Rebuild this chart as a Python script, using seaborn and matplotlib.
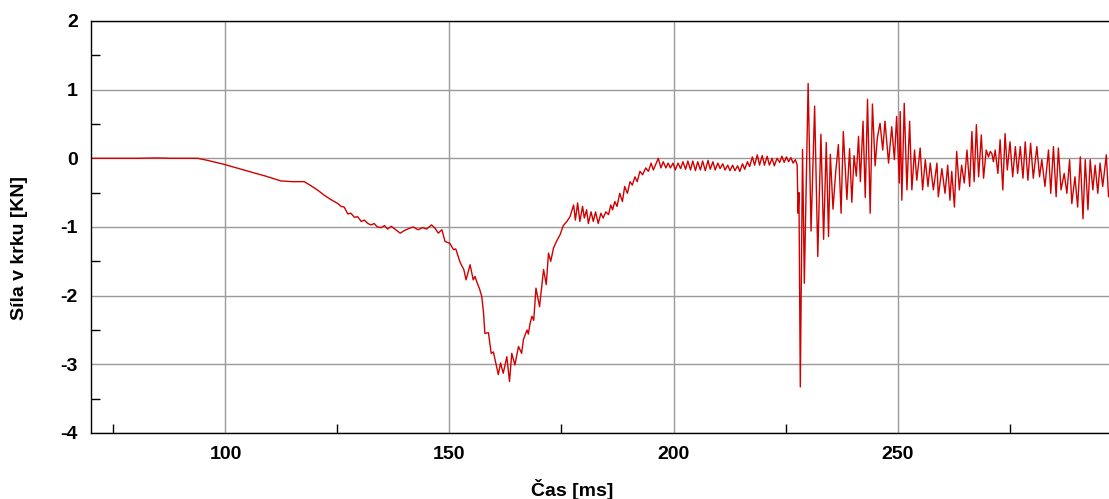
import matplotlib
matplotlib.use("Agg")
import matplotlib.pyplot as plt
import pandas as pd
import seaborn as sns
from matplotlib.ticker import MultipleLocator

# --- measured neck force (time in ms, force in kN) ---
# quiet phase and gradual loading
t_quiet = [70, 75, 80, 85, 88, 92, 93.8, 96, 99.8, 103, 105.7, 109, 112.4, 115,
           117.6, 119.1, 120.5, 122.1, 123.5, 125.1, 125.8, 126.5, 127.3, 128,
           128.8, 129.5, 130.3, 131, 131.8, 132.5, 133.2, 133.9, 134.7, 135.5,
           136.2, 137]
f_quiet = [0, 0, 0, 0.005, 0, 0, 0, -0.03, -0.09, -0.15, -0.20, -0.26, -0.33, -0.34,
           -0.34, -0.40, -0.46, -0.54, -0.60, -0.66, -0.70, -0.71, -0.81, -0.80,
           -0.86, -0.85, -0.92, -0.90, -0.95, -0.97, -0.95, -1.00, -1.01, -0.98,
           -1.03, -0.99]

# main loading peak
t_load = [138, 139, 140, 141, 141.9, 143, 144, 144.9, 146, 146.8, 147.5, 148.3,
          149, 150.1, 150.9, 151.4, 152.4, 153.2, 153.7, 154.6, 155.3, 155.7,
          156.1, 156.7, 157.2, 157.6, 157.9, 158.7, 159.3, 159.8, 160.4, 160.9,
          161.4, 162, 162.8, 163.4, 163.9, 164.6, 165.4, 166.1, 166.5, 167.3,
          167.6, 168.0, 168.4, 168.8, 169.3, 170.1, 171, 171.6, 172.1, 172.6,
          173.2, 173.8, 174.3, 174.7]
f_load = [-1.04, -1.09, -1.05, -1.02, -1.00, -1.04, -1.01, -1.03, -0.97, -1.02,
          -1.09, -1.04, -1.21, -1.24, -1.33, -1.32, -1.52, -1.62, -1.77, -1.55,
          -1.77, -1.72, -1.80, -1.90, -2.01, -2.25, -2.55, -2.54, -2.84, -2.82,
          -3.00, -3.15, -2.98, -3.13, -2.89, -3.25, -2.84, -3.01, -2.74, -2.84,
          -2.64, -2.50, -2.56, -2.40, -2.30, -2.36, -1.89, -2.16, -1.62, -1.84,
          -1.38, -1.50, -1.31, -1.22, -1.16, -1.11]

# unloading and settling near zero
t_settle = [175.4, 176.2, 176.9, 177.7, 178.1, 178.6, 179.1, 179.7, 180.1, 180.6,
            181.0, 181.6, 182.1, 182.6, 183.2, 183.8, 184.3, 184.9, 185.5, 186.0,
            186.4, 186.9, 187.4, 188.0, 188.6, 189.1, 189.7, 190.3, 190.8, 191.4,
            191.9, 192.5, 193.1, 193.8, 194.4, 195.0, 195.5, 196.6, 197.2, 197.7,
            198.3, 198.8, 199.3, 199.9, 200.4, 201.0, 201.6, 202.1, 202.7, 203.2,
            203.8, 204.3, 204.9, 205.4, 206.0, 206.5, 207.1, 207.7, 208.2, 208.8,
            209.3, 209.9, 210.4, 211.0, 211.5, 212.1, 212.6, 213.2, 213.7, 214.3,
            214.8, 215.4, 215.9, 216.5, 217.0, 217.6, 218.1, 218.7, 219.2, 219.8,
            220.3, 220.9, 221.4, 222.0, 222.5, 223.1, 223.7, 224.2, 224.7, 225.2,
            225.7, 226.2, 226.7, 227.2, 227.6]
f_settle = [-0.98, -0.92, -0.85, -0.68, -0.90, -0.65, -0.92, -0.70, -0.87, -0.75,
            -0.95, -0.78, -0.92, -0.78, -0.95, -0.80, -0.87, -0.78, -0.82, -0.68,
            -0.75, -0.63, -0.70, -0.51, -0.63, -0.41, -0.51, -0.34, -0.39, -0.27,
            -0.34, -0.19, -0.24, -0.14, -0.19, -0.07, -0.17, 0.00, -0.14, -0.05,
            -0.14, -0.07, -0.14, -0.07, -0.17, -0.07, -0.15, -0.05, -0.16, -0.04,
            -0.17, -0.04, -0.18, -0.05, -0.17, -0.04, -0.18, -0.03, -0.16, -0.05,
            -0.17, -0.07, -0.15, -0.08, -0.17, -0.10, -0.18, -0.10, -0.18, -0.11,
            -0.19, -0.08, -0.16, -0.05, -0.12, 0.02, -0.10, 0.05, -0.10, 0.04,
            -0.10, 0.03, -0.10, 0.00, -0.11, 0.00, -0.06, 0.03, -0.06, 0.02,
            -0.05, 0.01, -0.07, -0.02, -0.10]

# second impact and ringing
t_impact = [227.8, 228.0, 228.3, 228.8, 229.2, 230.05, 230.7, 231.5, 232.2, 232.9,
            233.5, 234.1, 234.6, 235.0, 235.6, 236.2, 236.8, 237.4, 237.9, 238.7,
            239.3, 239.8, 240.3, 240.8, 241.3, 241.7, 242.3, 242.8, 243.3, 243.9,
            244.4, 245.0, 245.5, 246.1, 246.7, 247.2, 248.0, 248.7, 249.3, 249.8,
            250.4, 250.6, 250.96, 251.5, 252.1, 252.7, 253.2, 253.8, 254.3, 255.05,
            255.6, 256.2, 256.8, 257.3, 258.0, 258.8, 259.1, 259.9, 260.6, 261.2,
            261.7, 262.1, 262.7, 263.2, 263.8, 264.3, 264.9, 265.5, 266.1, 266.6,
            267.1, 267.6, 268.1, 268.7, 269.2, 269.8, 270.3, 270.7, 271.05, 271.4,
            271.8, 272.4, 272.9, 273.5, 274.0, 274.5, 275.1, 275.7, 276.3, 276.8,
            277.4, 278.0, 278.5, 279.1, 279.7, 280.3, 281.1, 281.7, 282.2, 282.9,
            283.7, 284.2, 284.8, 285.4, 285.9, 286.5, 287.2, 287.8, 288.4, 288.9,
            289.6, 290.2, 290.8, 291.4, 291.9, 292.5, 293.0, 293.6, 294.1, 294.7,
            295.2, 295.8, 296.6, 297.1, 297.4]
f_impact = [-0.80, -0.50, -3.33, 0.13, -1.82, 1.09, -1.06, 0.76, -1.43, 0.35,
            -1.18, 0.23, -1.14, 0.06, -0.74, -0.20, 0.20, -0.80, 0.39, -0.60,
            0.14, -0.64, 0.04, -0.26, 0.32, -0.34, 0.54, -0.57, 0.86, -0.80,
            0.79, -0.11, 0.30, 0.51, 0.12, 0.54, -0.07, 0.46, -0.02, 0.61,
            -0.36, 0.68, -0.61, 0.80, -0.46, 0.54, -0.46, 0.12, -0.32, 0.15,
            -0.46, -0.02, -0.41, -0.07, -0.46, -0.07, -0.56, -0.15, -0.51, -0.10,
            -0.61, -0.19, -0.71, 0.10, -0.46, -0.10, -0.36, 0.12, -0.41, 0.39,
            -0.34, 0.49, -0.27, 0.34, -0.29, 0.12, 0.02, 0.10, 0.07, -0.05,
            0.12, -0.22, 0.27, -0.46, 0.36, -0.17, 0.24, -0.27, 0.17, -0.22,
            0.17, -0.29, 0.24, -0.32, 0.22, -0.29, 0.17, -0.27, -0.02, -0.41,
            0.12, -0.51, 0.17, -0.56, 0.15, -0.46, -0.22, -0.51, -0.02, -0.66,
            -0.27, -0.71, 0.02, -0.88, -0.02, -0.75, -0.02, -0.46, -0.10, -0.51,
            -0.07, -0.41, 0.05, -0.56, -0.45]

X_LABEL = "Čas [ms]"
Y_LABEL = "Síla v krku [KN]"

df = pd.DataFrame({
    X_LABEL: t_quiet + t_load + t_settle + t_impact,
    Y_LABEL: f_quiet + f_load + f_settle + f_impact,
})

sns.set_theme(style="white")
plt.rcParams["font.family"] = ["Liberation Sans", "DejaVu Sans"]
plt.rcParams["font.weight"] = "bold"
plt.rcParams["axes.unicode_minus"] = False

fig = plt.figure(figsize=(11.09, 4.99), dpi=100)
ax = fig.add_axes([0.0821, 0.1323, 0.9179, 0.8257])

sns.lineplot(data=df, x=X_LABEL, y=Y_LABEL, ax=ax, color="#d00000",
             linewidth=1.0, sort=False, estimator=None)

ax.set_xlim(70, 297.2)
ax.set_ylim(-4, 2)
ax.xaxis.set_major_locator(MultipleLocator(50))
ax.xaxis.set_minor_locator(MultipleLocator(25))
ax.yaxis.set_major_locator(MultipleLocator(1))
ax.yaxis.set_minor_locator(MultipleLocator(0.5))

ax.set_axisbelow(True)
ax.grid(which="major", color="#9a9a9a", linewidth=1.0)
ax.grid(which="minor", visible=False)

ax.tick_params(which="major", direction="inout", length=13, width=1,
               color="black", labelsize=14, pad=3, labelcolor="black")
ax.tick_params(which="minor", direction="in", length=6.5, width=1,
               color="black", bottom=True, left=True)

for side in ("left", "bottom", "top"):
    ax.spines[side].set_color("black")
    ax.spines[side].set_linewidth(1.0)
ax.spines["right"].set_visible(False)

ax.set_xlabel(X_LABEL, fontsize=14, fontweight="bold", color="black")
ax.set_ylabel(Y_LABEL, fontsize=14, fontweight="bold", color="black")
ax.xaxis.set_label_coords(0.4725, -0.112)
ax.yaxis.set_label_coords(-0.062, 0.45)

fig.savefig("out.png", dpi=100, facecolor="white")
